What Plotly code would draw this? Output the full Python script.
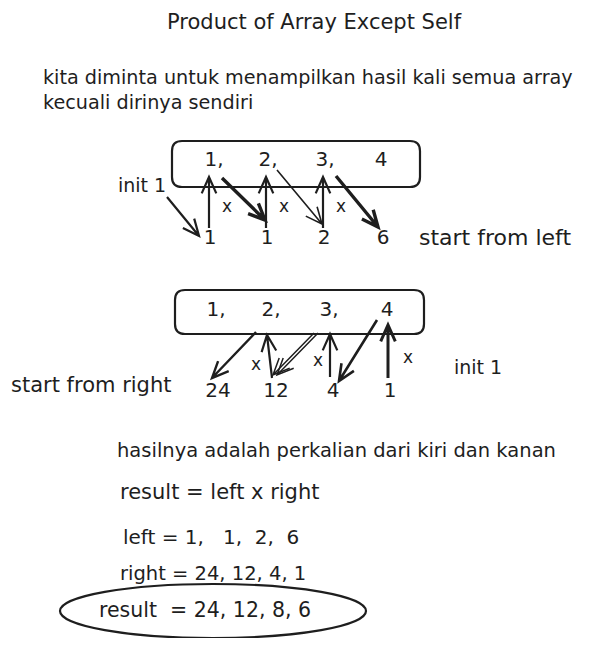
import math
import plotly.graph_objects as go

# ---- data ----
array_vals = [1, 2, 3, 4]
left_prod = [1, 1, 2, 6]
right_prod = [24, 12, 4, 1]
result_vals = [24, 12, 8, 6]

title = "Product of Array Except Self"
desc1 = "kita diminta untuk menampilkan hasil kali semua array"
desc2 = "kecuali dirinya sendiri"
note1 = "hasilnya adalah perkalian dari kiri dan kanan"
note2 = "result = left x right"

# ---- layout constants (page pixels; page body has an 8px margin) ----
PAD = 8
W, H = 592, 646
INK = "#1e1e1e"
FONT = "DejaVu Sans"

top_box_x = [214, 268, 325, 381]
top_val_x = [210, 267, 324, 383]
bot_box_x = [216, 271, 329, 387]
bot_val_x = [218, 276, 333, 390]

fig = go.Figure()
shapes = []
annotations = []


def txt(x, y, s, size=18, anchor="left"):
    annotations.append(dict(x=x, y=y, xref="x", yref="y", text=s, showarrow=False,
                            xanchor=anchor, yanchor="middle",
                            font=dict(family=FONT, size=size, color=INK)))


def arrow(x1, y1, x2, y2, w=2.0, head=18, ang=24):
    a = math.atan2(y2 - y1, x2 - x1)
    pts = []
    for s in (1, -1):
        b = a + math.pi + s * math.radians(ang)
        pts.append((x2 + head * math.cos(b), y2 + head * math.sin(b)))
    p = (f"M {x1},{y1} L {x2},{y2} "
         f"M {pts[0][0]:.1f},{pts[0][1]:.1f} L {x2},{y2} L {pts[1][0]:.1f},{pts[1][1]:.1f}")
    shapes.append(dict(type="path", path=p, xref="x", yref="y",
                       line=dict(color=INK, width=w)))


def rbox(x0, y0, x1, y1, r=10, w=2.2):
    p = (f"M {x0+r},{y0} L {x1-r},{y0} Q {x1},{y0} {x1},{y0+r} L {x1},{y1-r} "
         f"Q {x1},{y1} {x1-r},{y1} L {x0+r},{y1} Q {x0},{y1} {x0},{y1-r} "
         f"L {x0},{y0+r} Q {x0},{y0} {x0+r},{y0} Z")
    shapes.append(dict(type="path", path=p, xref="x", yref="y",
                       line=dict(color=INK, width=w)))


def seq(vals, seps):
    out = str(vals[0])
    for s, v in zip(seps, vals[1:]):
        out += s + str(v)
    return out


# ---- header ----
txt(314, 22, title, size=21, anchor="center")
txt(41, 77, desc1, size=19.2)
txt(41, 102, desc2, size=19.2)

# ---- top section (left products) ----
rbox(172, 141, 420, 187)
box_labels = [f"{v}," for v in array_vals[:-1]] + [str(array_vals[-1])]
fig.add_trace(go.Scatter(x=top_box_x, y=[161] * 4, mode="text", text=box_labels,
                         textfont=dict(family=FONT, size=20, color=INK),
                         hoverinfo="skip", showlegend=False))
fig.add_trace(go.Scatter(x=top_val_x, y=[239] * 4, mode="text",
                         text=[str(v) for v in left_prod],
                         textfont=dict(family=FONT, size=20, color=INK),
                         hoverinfo="skip", showlegend=False))
txt(116, 185, "init 1", size=19)
txt(417, 237, "start from left", size=22)
arrow(167, 197, 199, 236, w=2.2)
for i in range(3):
    arrow(top_val_x[i] - 1, 228, top_val_x[i] - 1, 177, w=2.2)
    txt(top_val_x[i] + 17, 206, "x", size=17, anchor="center")
arrow(222, 178, 265, 220, w=3.4)
arrow(277, 170, 322, 224, w=1.6)
arrow(336, 176, 378, 227, w=3.4)

# ---- bottom section (right products) ----
rbox(175, 290, 424, 334)
fig.add_trace(go.Scatter(x=bot_box_x, y=[311] * 4, mode="text", text=box_labels,
                         textfont=dict(family=FONT, size=20, color=INK),
                         hoverinfo="skip", showlegend=False))
fig.add_trace(go.Scatter(x=bot_val_x, y=[392] * 4, mode="text",
                         text=[str(v) for v in right_prod],
                         textfont=dict(family=FONT, size=20, color=INK),
                         hoverinfo="skip", showlegend=False))
txt(9, 385, "start from right", size=21)
txt(452, 367, "init 1", size=19)
arrow(272, 378, 267, 335, w=2.2)
arrow(330, 377, 330, 334, w=2.2)
arrow(388, 378, 388, 325, w=3.0)
arrow(256, 332, 212, 378, w=2.4)
arrow(318, 333, 277, 375, w=1.5)
arrow(314, 333, 273, 375, w=1.5)
arrow(377, 320, 339, 381, w=2.6)
txt(256, 364, "x", size=17, anchor="center")
txt(318, 360, "x", size=17, anchor="center")
txt(408, 357, "x", size=17, anchor="center")

# ---- conclusion ----
txt(115, 450, note1, size=19.5)
txt(118, 492, note2, size=21)
txt(121, 537, "left = " + seq(left_prod, [",   ", ",  ", ",  "]), size=20)
txt(118, 573, "right = " + seq(right_prod, [", ", ", ", ", "]), size=19.5)
txt(97, 610, "result  = " + seq(result_vals, [", ", ", ", ", "]), size=20.5)
shapes.append(dict(type="circle", xref="x", yref="y", x0=60, x1=366, y0=584, y1=638,
                   line=dict(color=INK, width=2.2)))

fig.update_layout(
    width=W - PAD, height=H - 2 * PAD, margin=dict(l=0, r=0, t=0, b=0),
    paper_bgcolor="white", plot_bgcolor="white",
    xaxis=dict(range=[PAD, W], visible=False, fixedrange=True),
    yaxis=dict(range=[H - PAD, PAD], visible=False, fixedrange=True),
    shapes=shapes, annotations=annotations, showlegend=False,
)
fig.write_html("out.html")
